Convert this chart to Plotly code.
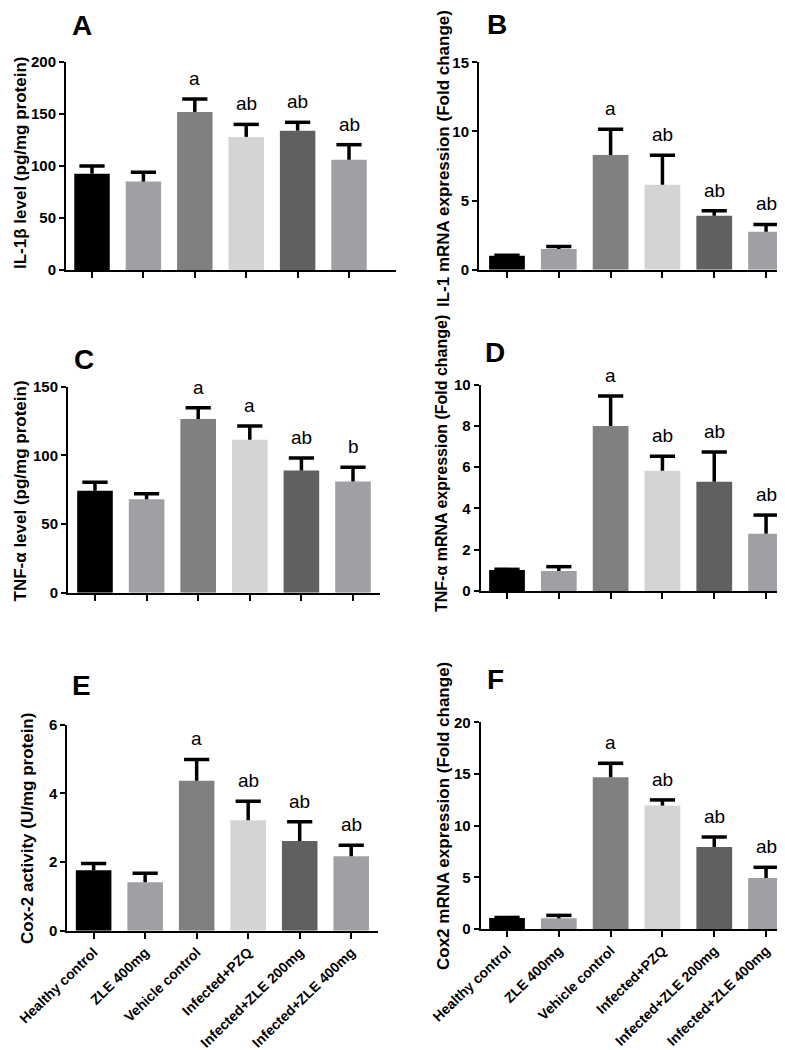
import plotly.graph_objects as go

# ---------------- data ----------------
categories = ["Healthy control", "ZLE 400mg", "Vehicle control",
              "Infected+PZQ", "Infected+ZLE 200mg", "Infected+ZLE 400mg"]
bar_colors = ["#000000", "#a0a0a4", "#808080", "#d4d4d4", "#606060", "#a0a0a4"]

il1b_mean = [92.6, 85, 152, 128, 134, 106]
il1b_err = [7.4, 9, 12.4, 12, 8, 14.5]
il1b_sig = ["", "", "a", "ab", "ab", "ab"]

il1_mrna_mean = [1.0, 1.5, 8.3, 6.15, 3.9, 2.75]
il1_mrna_err = [0.04, 0.17, 1.86, 2.13, 0.37, 0.52]
il1_mrna_sig = ["", "", "a", "ab", "ab", "ab"]

tnf_mean = [74.3, 68, 126.5, 111.4, 88.9, 80.9]
tnf_err = [6.1, 4, 8.2, 10, 9.1, 10.4]
tnf_sig = ["", "", "a", "a", "ab", "b"]

tnf_mrna_mean = [1.02, 0.97, 8.0, 5.83, 5.3, 2.78]
tnf_mrna_err = [0.03, 0.21, 1.45, 0.7, 1.44, 0.9]
tnf_mrna_sig = ["", "", "a", "ab", "ab", "ab"]

cox2_mean = [1.76, 1.41, 4.37, 3.22, 2.61, 2.17]
cox2_err = [0.2, 0.26, 0.62, 0.55, 0.56, 0.32]
cox2_sig = ["", "", "a", "ab", "ab", "ab"]

cox2_mrna_mean = [1.06, 1.03, 14.68, 11.94, 7.94, 4.94]
cox2_mrna_err = [0.06, 0.29, 1.35, 0.55, 0.96, 1.03]
cox2_mrna_sig = ["", "", "a", "ab", "ab", "ab"]

letters = ["A", "B", "C", "D", "E", "F"]
y_titles = ["IL-1β level (pg/mg protein)",
            "IL-1 mRNA expression (Fold change)",
            "TNF-α level (pg/mg protein)",
            "TNF-α mRNA expression (Fold change)",
            "Cox-2 activity (U/mg protein)",
            "Cox2 mRNA expression (Fold change)"]
y_ticks = [[0, 50, 100, 150, 200], [0, 5, 10, 15], [0, 50, 100, 150],
           [0, 2, 4, 6, 8, 10], [0, 2, 4, 6], [0, 5, 10, 15, 20]]
means = [il1b_mean, il1_mrna_mean, tnf_mean, tnf_mrna_mean, cox2_mean, cox2_mrna_mean]
errs = [il1b_err, il1_mrna_err, tnf_err, tnf_mrna_err, cox2_err, cox2_mrna_err]
sigs = [il1b_sig, il1_mrna_sig, tnf_sig, tnf_mrna_sig, cox2_sig, cox2_mrna_sig]
show_xlabels = [False, False, False, False, True, True]

# ---------------- geometry (pixels) ----------------
W, H = 785, 1050
# x0, x1, ytop, ybottom, xrange
geom = [
    (58, 388, 54, 262, [-0.506, 5.914]),
    (471, 785, 54.3, 261.7, [-0.54, 5.52]),
    (60, 372, 378.7, 584.7, [-0.523, 5.523]),
    (472.7, 785, 376.7, 583, [-0.508, 5.52]),
    (59.3, 370, 716.7, 922.7, [-0.511, 5.52]),
    (472.7, 785, 714.3, 921, [-0.508, 5.52]),
]
title_pos = [(12, 155), (435, 151), (12.5, 483), (433, 456), (19, 821), (435, 808)]
title_size = [17, 17, 17, 16, 17, 17]
letter_pos = [(74, 18), (489, 16), (76, 351), (487, 344), (73, 677), (487, 671)]

FONT = "Liberation Sans"


def fx(px):
    return px / W


def fy(py):
    return 1 - py / H


fig = go.Figure()
annotations = []
layout_axes = {}

for i in range(6):
    n = i + 1
    xa = "x" if n == 1 else f"x{n}"
    ya = "y" if n == 1 else f"y{n}"
    x0, x1, yt, yb, xr = geom[i]
    tops = [m + e for m, e in zip(means[i], errs[i])]

    fig.add_trace(go.Bar(
        x=categories, y=means[i], marker=dict(color=bar_colors, line=dict(width=0)),
        width=0.69, xaxis=xa, yaxis=ya, showlegend=False))

    sx, sy = [], []
    for c, m, t in zip(categories, means[i], tops):
        sx += [c, c, None]
        sy += [m, t, None]
    fig.add_trace(go.Scatter(
        x=sx, y=sy, mode="lines", line=dict(color="black", width=3.5),
        xaxis=xa, yaxis=ya, showlegend=False, hoverinfo="skip"))
    fig.add_trace(go.Scatter(
        x=categories, y=tops, mode="markers",
        marker=dict(symbol="line-ew", size=18, line=dict(color="black", width=3.5)),
        xaxis=xa, yaxis=ya, showlegend=False, hoverinfo="skip"))

    for c, t, s in zip(categories, tops, sigs[i]):
        if s:
            annotations.append(dict(
                x=c, y=t, xref=xa, yref=ya, text=s, showarrow=False,
                yanchor="bottom", xanchor="center", yshift=8,
                font=dict(family=FONT, size=19, color="black")))

    ytick_font = dict(family=FONT, size=15, color="black", weight="bold")
    xtick_font = dict(family=FONT, size=14, color="black", weight="bold")
    layout_axes["xaxis" if n == 1 else f"xaxis{n}"] = dict(
        domain=[fx(x0), fx(x1)], anchor=ya, range=xr, type="category",
        showline=True, linecolor="black", linewidth=2,
        ticks="outside", ticklen=6, tickwidth=2, tickcolor="black",
        showticklabels=show_xlabels[i], tickangle=-44, tickfont=xtick_font,
        showgrid=False, zeroline=False, automargin=False, fixedrange=True)
    layout_axes["yaxis" if n == 1 else f"yaxis{n}"] = dict(
        domain=[fy(yb), fy(yt)], anchor=xa, range=[0, y_ticks[i][-1]],
        tickvals=y_ticks[i], showline=True, linecolor="black", linewidth=2,
        ticks="outside", ticklen=5, tickwidth=2, tickcolor="black",
        tickfont=ytick_font, showgrid=False, zeroline=False,
        automargin=False, fixedrange=True)

    tx, ty = title_pos[i]
    annotations.append(dict(
        x=fx(tx), y=fy(ty), xref="paper", yref="paper", text=y_titles[i],
        textangle=-90, showarrow=False, xanchor="center", yanchor="middle",
        font=dict(family=FONT, size=title_size[i], color="black", weight="bold")))
    lx, ly = letter_pos[i]
    annotations.append(dict(
        x=fx(lx), y=fy(ly), xref="paper", yref="paper", text=letters[i],
        showarrow=False, xanchor="center", yanchor="middle", borderpad=0,
        font=dict(family=FONT, size=28, color="black", weight="bold")))

fig.update_layout(
    width=W, height=H, margin=dict(l=0, r=0, t=0, b=0),
    paper_bgcolor="white", plot_bgcolor="white", template="none",
    annotations=annotations, bargap=0.3, showlegend=False,
    **layout_axes)

fig.write_html("out.html")
